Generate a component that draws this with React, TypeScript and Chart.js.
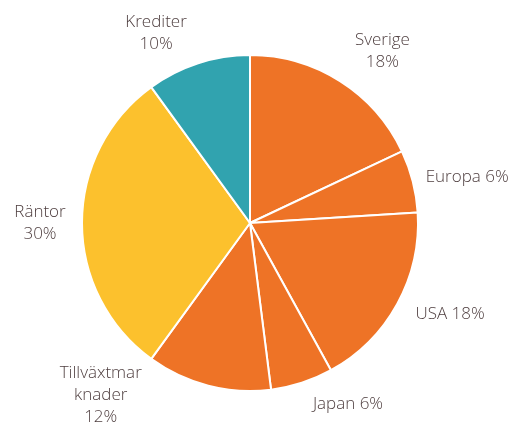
import React, { useEffect, useRef } from "react";
import { Chart, registerables } from "chart.js";

Chart.register(...registerables);

const categories = ["Sverige", "Europa", "USA", "Japan", "Tillväxtmarknader", "Räntor", "Krediter"];
const shares = [18, 6, 18, 6, 12, 30, 10];
const labelLines = [
  ["Sverige", "18%"],
  ["Europa 6%"],
  ["USA 18%"],
  ["Japan 6%"],
  ["Tillväxtmar", "knader", "12%"],
  ["Räntor", "30%"],
  ["Krediter", "10%"],
];
const sliceColors = ["#EE7326", "#EE7326", "#EE7326", "#EE7326", "#EE7326", "#FCC12D", "#31A3AF"];

// label layout: [angle shift in degrees from slice mid-angle, distance beyond outer radius]
const labelLayout = [
  [5.2, 49],
  [2.4, 54],
  [-4.2, 52],
  [-10.4, 38],
  [26.5, 60],
  [0, 42],
  [-8.3, 44],
];

const TEXT_COLOR = "#4E3E3F";
const FONT = "300 17px 'Open Sans', sans-serif";
const LINE_H = 22;

const labelPlugin = {
  id: "outerLabels",
  afterDraw(chart: any) {
    const ctx = chart.ctx;
    const meta = chart.getDatasetMeta(0);
    ctx.save();
    ctx.font = FONT;
    ctx.fillStyle = TEXT_COLOR;
    ctx.textAlign = "center";
    ctx.textBaseline = "middle";
    meta.data.forEach((arc: any, i: number) => {
      const { x, y, startAngle, endAngle, outerRadius } = arc.getProps(
        ["x", "y", "startAngle", "endAngle", "outerRadius"],
        true
      );
      const mid = (startAngle + endAngle) / 2 + (labelLayout[i][0] * Math.PI) / 180;
      const d = outerRadius + labelLayout[i][1];
      const cx = x + Math.cos(mid) * d;
      const cy = y + Math.sin(mid) * d;
      const lines = labelLines[i];
      const top = cy - ((lines.length - 1) * LINE_H) / 2;
      lines.forEach((ln, j) => ctx.fillText(ln, cx, top + j * LINE_H));
    });
    ctx.restore();
  },
};

export default function App() {
  const ref = useRef<HTMLCanvasElement>(null);
  useEffect(() => {
    document.body.style.margin = "0";
    const chart = new Chart(ref.current!, {
      type: "pie",
      data: {
        labels: categories,
        datasets: [
          {
            data: shares,
            backgroundColor: sliceColors,
            borderColor: "#FFFFFF",
            borderWidth: 2,
          },
        ],
      },
      options: {
        responsive: false,
        animation: false,
        layout: { padding: { left: 81, top: 54, right: 94, bottom: 31 } },
        plugins: { legend: { display: false }, tooltip: { enabled: false } },
      },
      plugins: [labelPlugin],
    });
    return () => chart.destroy();
  }, []);
  return (
    <div style={{ width: 513, height: 423 }}>
      <canvas ref={ref} width={513} height={423} style={{ display: "block" }} />
    </div>
  );
}
